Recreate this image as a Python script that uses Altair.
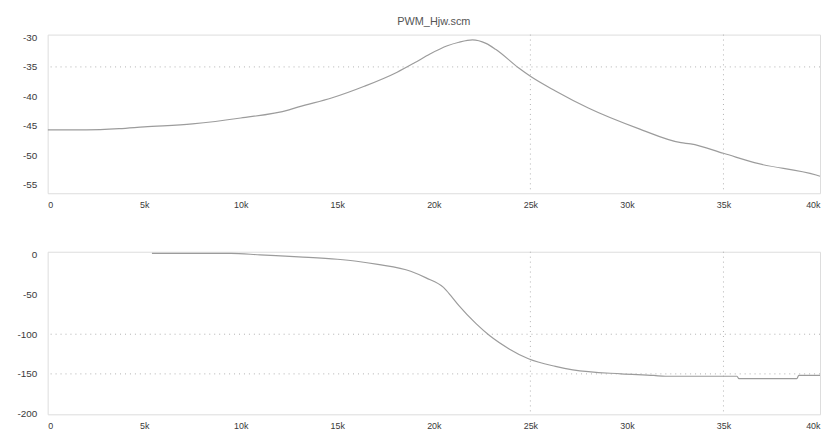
import altair as alt
import pandas as pd

# magnitude curve (dB)
freq_mag = [0, 2000, 3700, 5000, 7500, 10000, 12500, 13000, 14700, 16400, 18100, 19000,
            19800, 20700, 21300, 22000, 22700, 23200, 24400, 25000, 26300, 28000, 30600,
            32800, 33300, 35000, 36600, 39800, 40000]
mag = [-45.7, -45.7, -45.5, -45.2, -44.7, -43.7, -42.3, -41.8, -40.3, -38.3, -35.9, -34.3,
       -32.8, -31.4, -30.8, -30.4, -31.0, -32.0, -35.2, -36.6, -39.1, -42.0, -45.5,
       -47.9, -48.1, -49.7, -51.3, -53.4, -53.6]

# phase curve (deg)
freq_ph = [5400, 9500, 11000, 13000, 15000, 16000, 17100, 18800, 19600, 20500, 20900,
           21300, 22200, 22900, 23900, 24900, 26300, 27200, 29700, 31400, 32000, 35700,
           35800, 38800, 38900, 40000]
phase = [2, 2, 0, -2.5, -5.5, -8, -12, -20.6, -29, -41, -52, -64, -87, -102, -118.5,
         -131, -140.6, -145, -150, -152, -153, -153, -156, -156, -152, -152]

x_ticks = [0, 5000, 10000, 15000, 20000, 25000, 30000, 35000, 40000]
mag_ticks = [-30, -35, -40, -45, -50, -55]
ph_ticks = [0, -50, -100, -150, -200]
vgrid = [25000, 35000]
hgrid_mag = [-35]
hgrid_ph = [-100, -150]

title = "PWM_Hjw.scm"

LINE = "#9c9c9c"
GRID = "#b0b0b0"
LABEL = "#3a3a3a"
FONT = "Liberation Sans"

W = 779

def xaxis():
    return alt.Axis(values=x_ticks, grid=False, ticks=False, domain=False,
                    labelExpr="datum.value == 0 ? '0' : (datum.value/1000) + 'k'",
                    labelFlush=True, labelPadding=7, labelFontSize=9,
                    labelColor=LABEL, labelFont=FONT, title=None)

def yaxis(vals):
    return alt.Axis(values=vals, grid=False, ticks=False, domain=False,
                    labelExpr="'' + datum.value",
                    labelPadding=11, labelFontSize=10, labelColor=LABEL,
                    labelFont=FONT, title=None, minExtent=34, maxExtent=34)

def panel(freqs, vals, ydom, yticks, hgrid, h, ttl=None):
    df = pd.DataFrame({"f": freqs, "v": vals})
    xs = alt.Scale(domain=[0, 40000], nice=False)
    ys = alt.Scale(domain=ydom, nice=False, zero=False)
    hg = alt.Chart(pd.DataFrame({"v": hgrid})).mark_rule(
        color=GRID, strokeDash=[1, 4], strokeWidth=1).encode(
        y=alt.Y("v:Q", scale=ys, axis=yaxis(yticks)))
    vg = alt.Chart(pd.DataFrame({"f": vgrid})).mark_rule(
        color=GRID, strokeDash=[1, 4], strokeWidth=1).encode(
        x=alt.X("f:Q", scale=xs, axis=xaxis()))
    line = alt.Chart(df).mark_line(color=LINE, strokeWidth=1.2, clip=True,
                                   interpolate="monotone").encode(
        x=alt.X("f:Q", scale=xs, axis=xaxis()),
        y=alt.Y("v:Q", scale=ys, axis=yaxis(yticks)))
    props = dict(width=W, height=h)
    if ttl:
        props["title"] = alt.TitleParams(ttl, frame="group", anchor="middle", offset=6,
                                         fontSize=11, color="#555555", font=FONT,
                                         fontWeight="normal")
    return alt.layer(hg, vg, line).properties(**props)

top = panel(freq_mag, mag, [-56.5, -29.5], mag_ticks, hgrid_mag, 160, title)
bot = panel(freq_ph, phase, [-201, 4], ph_ticks, hgrid_ph, 164)

chart = alt.vconcat(top, bot, spacing=59, bounds="flush").properties(
    padding={"left": 5, "top": 5, "right": 0, "bottom": 0}
).configure_view(stroke="#a0a0a0", strokeWidth=1.8).configure(background="white")

chart.save("out.html", embed_options={"renderer": "svg", "actions": False})
